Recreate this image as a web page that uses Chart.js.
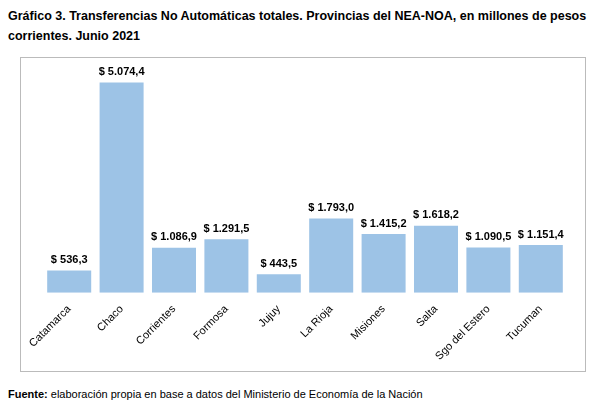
<!DOCTYPE html><html><head><meta charset="utf-8">
<script src="https://cdn.jsdelivr.net/npm/chart.js@4"></script>
<style>
body{margin:0;width:609px;height:414px;background:#fff;font-family:"Liberation Sans",Arial,sans-serif;position:relative}
#t{position:absolute;left:8px;top:6px;width:590px;font-weight:bold;font-size:12.5px;line-height:20px;color:#000}
#box{position:absolute;left:20px;top:57px;width:566px;height:315px;border:1px solid #bbb;box-sizing:border-box}
#f{position:absolute;left:8px;top:388px;font-size:11px;color:#000}
</style></head><body>
<div id="t">Gráfico 3. Transferencias No Automáticas totales. Provincias del NEA-NOA, en millones de pesos corrientes. Junio 2021</div>
<div id="box"><canvas id="c"></canvas></div>
<div id="f"><b>Fuente:</b> elaboración propia en base a datos del Ministerio de Economía de la Nación</div>
<script>
const categories=["Catamarca","Chaco","Corrientes","Formosa","Jujuy","La Rioja","Misiones","Salta","Sgo del Estero","Tucuman"];
const values=[536.3,5074.4,1086.9,1291.5,443.5,1793.0,1415.2,1618.2,1090.5,1151.4];
const fmt=v=>"$ "+v.toLocaleString("de-DE",{minimumFractionDigits:1,maximumFractionDigits:1});
const labelPlugin={id:"lbl",afterDatasetsDraw(ch){const c=ch.ctx;c.save();c.font="bold 11px 'Liberation Sans',Arial";c.fillStyle="#000";c.textAlign="center";c.textBaseline="bottom";
ch.getDatasetMeta(0).data.forEach((b,i)=>c.fillText(fmt(values[i]),b.x,b.y-5));c.restore();}};
new Chart(document.getElementById("c"),{type:"bar",
data:{labels:categories,datasets:[{data:values,backgroundColor:"#9dc3e6",categoryPercentage:0.84,barPercentage:1}]},
options:{responsive:true,maintainAspectRatio:false,animation:false,
layout:{padding:{left:22,right:18,top:7,bottom:6}},
plugins:{legend:{display:false},tooltip:{enabled:false}},
scales:{y:{display:false,min:0,max:5500},
x:{grid:{display:false},border:{display:false},ticks:{color:"#000",font:{size:11,family:"'Liberation Sans',Arial"},minRotation:45,maxRotation:45,padding:2}}}},
plugins:[labelPlugin]});
</script></body></html>
